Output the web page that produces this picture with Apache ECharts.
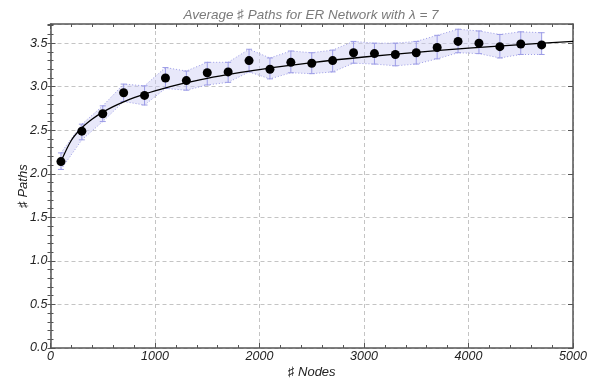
<!DOCTYPE html>
<html>
<head>
<meta charset="utf-8">
<script src="https://cdn.jsdelivr.net/npm/echarts@6/dist/echarts.min.js"></script>
<style>
  html, body { margin: 0; padding: 0; background: #fff; }
  #chart { width: 592px; height: 379px; }
</style>
</head>
<body>
<div id="chart"></div>
<script>
// Network sizes that were simulated
const nodes = [100, 300, 500, 700, 900, 1100, 1300, 1500, 1700, 1900, 2100, 2300,
               2500, 2700, 2900, 3100, 3300, 3500, 3700, 3900, 4100, 4300, 4500, 4700];
// Mean number of paths per network size
const meanPaths = [2.14, 2.49, 2.69, 2.93, 2.90, 3.10, 3.07, 3.16, 3.17, 3.30, 3.20, 3.28,
                   3.27, 3.30, 3.39, 3.38, 3.37, 3.39, 3.45, 3.52, 3.50, 3.46, 3.49, 3.48];
// Upper / lower ends of the error bars
const upperPaths = [2.24, 2.57, 2.78, 3.03, 3.01, 3.22, 3.18, 3.28, 3.28, 3.43, 3.33, 3.41,
                    3.39, 3.42, 3.52, 3.50, 3.50, 3.52, 3.59, 3.66, 3.64, 3.60, 3.63, 3.62];
const lowerPaths = [2.05, 2.39, 2.60, 2.83, 2.79, 2.98, 2.96, 3.02, 3.05, 3.17, 3.09, 3.16,
                    3.15, 3.17, 3.27, 3.26, 3.24, 3.26, 3.32, 3.39, 3.38, 3.33, 3.37, 3.37];
// Fitted trend curve samples
const fitNodes = [100, 200, 300, 400, 500, 600, 700, 800, 900, 1000, 1250, 1500, 1750,
                  2000, 2500, 3000, 3500, 4000, 4500, 5000];
const fitPaths = [2.14, 2.385, 2.528, 2.629, 2.708, 2.772, 2.827, 2.874, 2.916, 2.953, 3.032,
                  3.096, 3.150, 3.197, 3.276, 3.341, 3.395, 3.442, 3.484, 3.521];

const X_MIN = 0, X_MAX = 5000, Y_MIN = 0, Y_MAX = 3.72;

const FONT = 'Liberation Sans';
const frameColor = '#555';
const barColor = '#9c9ce6';
const gridStyle = { color: '#c4c4c4', width: 1, type: [4, 3] };
const labelStyle = { fontFamily: FONT, fontStyle: 'italic', fontSize: 12.5, color: '#222' };
const nameStyle = { fontFamily: FONT, fontStyle: 'italic', fontSize: 13, color: '#222' };

const chart = echarts.init(document.getElementById('chart'), null, { renderer: 'canvas' });

function yAxisDef(pos, opts) {
  return Object.assign({
    type: 'value', position: pos, min: Y_MIN, max: Y_MAX,
    axisLine: { show: true, onZero: false, lineStyle: { color: frameColor, width: 1.5 } },
    axisTick: { show: true, inside: true, length: 5, lineStyle: { color: frameColor } },
    axisLabel: { show: false },
    splitLine: { show: false }
  }, opts);
}

const option = {
  animation: false,
  backgroundColor: '#fff',
  title: {
    text: 'Average \u266F Paths for ER Network with \u03BB = 7',
    left: 306, top: 3, textAlign: 'center',
    textStyle: { fontFamily: FONT, fontStyle: 'italic', fontWeight: 'normal', fontSize: 13.5, color: '#7a7a7a' }
  },
  grid: { left: 50.5, right: 19, top: 24, bottom: 31, containLabel: false, outerBoundsMode: 'none' },
  xAxis: [
    {
      type: 'value', position: 'bottom', min: X_MIN, max: X_MAX, interval: 1000,
      name: '\u266F Nodes', nameLocation: 'middle', nameGap: 18, nameMoveOverlap: false,
      nameTextStyle: nameStyle,
      axisLine: { show: true, onZero: false, lineStyle: { color: frameColor, width: 1.5 } },
      axisTick: { show: true, inside: true, length: 5, lineStyle: { color: frameColor } },
      minorTick: { show: true, splitNumber: 5, length: 3, lineStyle: { color: frameColor } },
      axisLabel: Object.assign({}, labelStyle, { margin: 2, formatter: v => String(v) }),
      splitLine: { show: true, lineStyle: gridStyle }
    },
    {
      type: 'value', position: 'top', min: X_MIN, max: X_MAX, interval: 1000,
      axisLine: { show: true, onZero: false, lineStyle: { color: frameColor, width: 1.5 } },
      axisTick: { show: true, inside: true, length: 5, lineStyle: { color: frameColor } },
      minorTick: { show: true, splitNumber: 5, length: 3, lineStyle: { color: frameColor } },
      axisLabel: { show: false },
      splitLine: { show: false }
    }
  ],
  yAxis: [
    yAxisDef('left', {
      interval: 0.5,
      name: '\u266F Paths', nameLocation: 'middle', nameGap: 21, nameRotate: 90, nameMoveOverlap: false,
      nameTextStyle: nameStyle,
      axisLabel: Object.assign({}, labelStyle, {
        show: true, margin: 3, showMaxLabel: false,
        formatter: v => (Math.abs(v / 0.5 - Math.round(v / 0.5)) < 1e-6 ? v.toFixed(1) : '')
      }),
      splitLine: { show: true, lineStyle: gridStyle }
    }),
    yAxisDef('left', { interval: 0.1, axisLine: { show: false }, axisTick: { show: true, inside: true, length: 3, lineStyle: { color: frameColor } } }),
    yAxisDef('right', { interval: 0.5 }),
    yAxisDef('right', { interval: 0.1, axisLine: { show: false }, axisTick: { show: true, inside: true, length: 3, lineStyle: { color: frameColor } } })
  ],
  series: [
    // shaded band between the lower and upper error values, with dotted edges
    {
      type: 'custom', z: 1, silent: true,
      data: [0],
      renderItem: function (params, api) {
        const top = nodes.map((n, i) => api.coord([n, upperPaths[i]]));
        const bottom = nodes.map((n, i) => api.coord([n, lowerPaths[i]]));
        const edge = { stroke: barColor, lineWidth: 1, lineDash: [1, 2], fill: null };
        return {
          type: 'group',
          children: [
            { type: 'polygon', shape: { points: top.concat(bottom.slice().reverse()) },
              style: { fill: 'rgba(205, 205, 245, 0.45)', stroke: null } },
            { type: 'polyline', shape: { points: top }, style: edge },
            { type: 'polyline', shape: { points: bottom }, style: edge }
          ]
        };
      }
    },
    // error bars with caps
    {
      type: 'custom', z: 3, silent: true,
      data: nodes.map((n, i) => [n, lowerPaths[i], upperPaths[i]]),
      renderItem: function (params, api) {
        const lo = api.coord([api.value(0), api.value(1)]);
        const hi = api.coord([api.value(0), api.value(2)]);
        const cap = 3;
        const style = { stroke: barColor, lineWidth: 1 };
        return {
          type: 'group',
          children: [
            { type: 'line', shape: { x1: lo[0], y1: lo[1], x2: hi[0], y2: hi[1] }, style },
            { type: 'line', shape: { x1: lo[0] - cap, y1: lo[1], x2: lo[0] + cap, y2: lo[1] }, style },
            { type: 'line', shape: { x1: hi[0] - cap, y1: hi[1], x2: hi[0] + cap, y2: hi[1] }, style }
          ]
        };
      }
    },
    // fitted trend
    {
      type: 'line', symbol: 'none', smooth: 0.3, z: 4,
      data: fitNodes.map((n, i) => [n, fitPaths[i]]),
      lineStyle: { color: '#000', width: 1.3 }
    },
    // measured means
    {
      type: 'scatter', z: 5, symbol: 'circle', symbolSize: 9,
      data: nodes.map((n, i) => [n, meanPaths[i]]),
      itemStyle: { color: '#000', opacity: 1 }
    }
  ]
};

chart.setOption(option);
</script>
</body>
</html>
